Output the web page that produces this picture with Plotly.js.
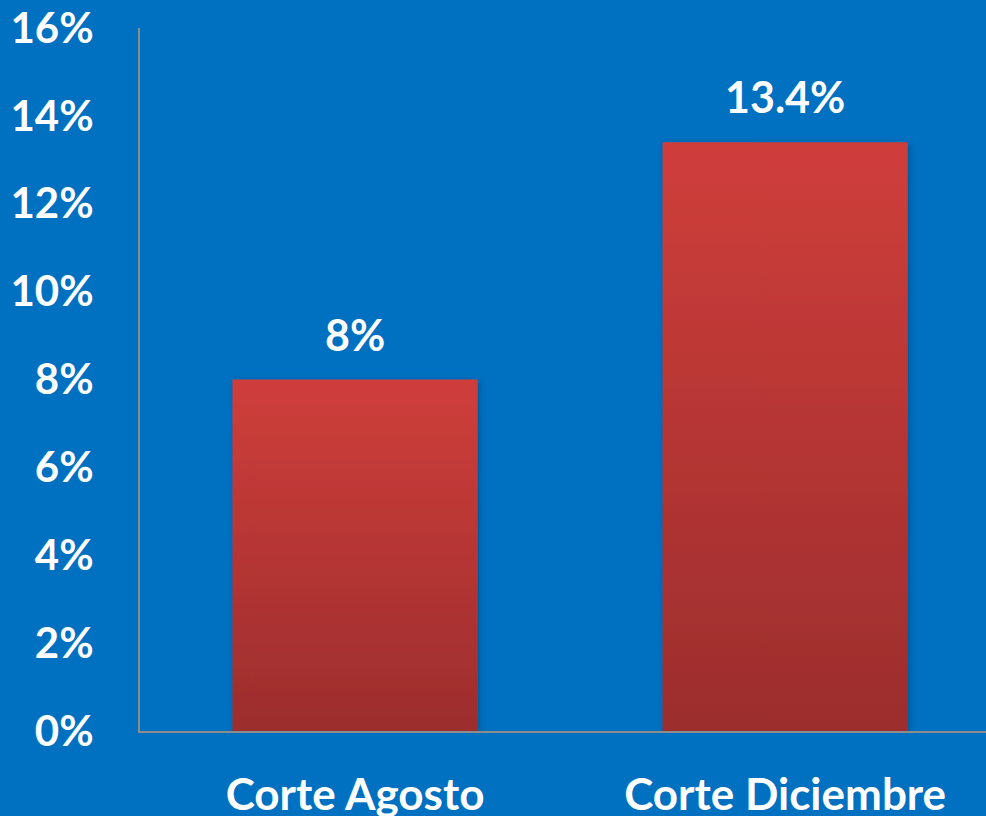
<!DOCTYPE html>
<html><head><meta charset="utf-8">
<script src="https://cdn.plot.ly/plotly-3.0.1.min.js"></script>
<style>html,body{margin:0;padding:0;background:#0070C0;}#chart{width:986px;height:816px;}</style>
</head><body><div id="chart"></div>
<script>
const categories = ["Corte Agosto", "Corte Diciembre"];
const values = [8, 13.4];
const labels = ["8%", "13.4%"];
const yTickVals = [0, 2, 4, 6, 8, 10, 12, 14, 16];
const yTickText = ["0%", "2%", "4%", "6%", "8%", "10%", "12%", "14%", "16%"];

const FONT = "Lato, 'Open Sans', sans-serif";
const trace = {
  type: "bar", x: categories, y: values, width: 0.57,
  marker: {color: "#B83634", line: {width: 0}},
  hoverinfo: "none"
};
const annotations = categories.map((c, i) => ({
  x: c, y: values[i], xref: "x", yref: "y", text: "<b>" + labels[i] + "</b>",
  showarrow: false, yanchor: "bottom", yshift: 18,
  font: {family: FONT, size: 43, color: "#FFFFFF"}
}));
const layout = {
  width: 986, height: 816,
  paper_bgcolor: "#0070C0", plot_bgcolor: "#0070C0",
  margin: {l: 140, r: 0, t: 28, b: 85},
  showlegend: false,
  font: {family: FONT, color: "#FFFFFF"},
  xaxis: {
    range: [-0.5, 1.467], showgrid: false, zeroline: false,
    showline: true, linecolor: "#8C8C8C", linewidth: 2,
    ticks: "", ticklabelstandoff: 24,
    tickfont: {family: FONT, size: 44, color: "#FFFFFF", weight: "bold"}
  },
  yaxis: {
    range: [0, 16], showgrid: false, zeroline: false,
    showline: true, linecolor: "#8C8C8C", linewidth: 2,
    tickvals: yTickVals, ticktext: yTickText, ticks: "",
    ticklabelstandoff: 36,
    tickfont: {family: FONT, size: 42, color: "#FFFFFF", weight: "bold"}
  },
  annotations: annotations
};
Plotly.newPlot("chart", [trace], layout, {staticPlot: true}).then(gd => {
  const svg = gd.querySelector("svg.main-svg");
  const ns = "http://www.w3.org/2000/svg";
  let defs = svg.querySelector("defs");
  if (!defs) { defs = document.createElementNS(ns, "defs"); svg.insertBefore(defs, svg.firstChild); }
  const g = document.createElementNS(ns, "linearGradient");
  g.setAttribute("id", "barGrad"); g.setAttribute("x1", "0"); g.setAttribute("y1", "0");
  g.setAttribute("x2", "0"); g.setAttribute("y2", "1");
  [["0", "#CF3E3B"], ["1", "#9C2D2D"]].forEach(([o, c]) => {
    const s = document.createElementNS(ns, "stop");
    s.setAttribute("offset", o); s.setAttribute("stop-color", c); g.appendChild(s);
  });
  defs.appendChild(g);
  const f = document.createElementNS(ns, "filter");
  f.setAttribute("id", "barShadow"); f.setAttribute("x", "-10%"); f.setAttribute("y", "-10%");
  f.setAttribute("width", "120%"); f.setAttribute("height", "120%");
  const ds = document.createElementNS(ns, "feDropShadow");
  ds.setAttribute("dx", "2"); ds.setAttribute("dy", "2"); ds.setAttribute("stdDeviation", "3");
  ds.setAttribute("flood-color", "#003060"); ds.setAttribute("flood-opacity", "0.45");
  f.appendChild(ds); defs.appendChild(f);
  gd.querySelectorAll(".trace.bars .point path").forEach(p => {
    p.style.fill = "url(#barGrad)";
    p.setAttribute("filter", "url(#barShadow)");
  });
});
</script></body></html>
